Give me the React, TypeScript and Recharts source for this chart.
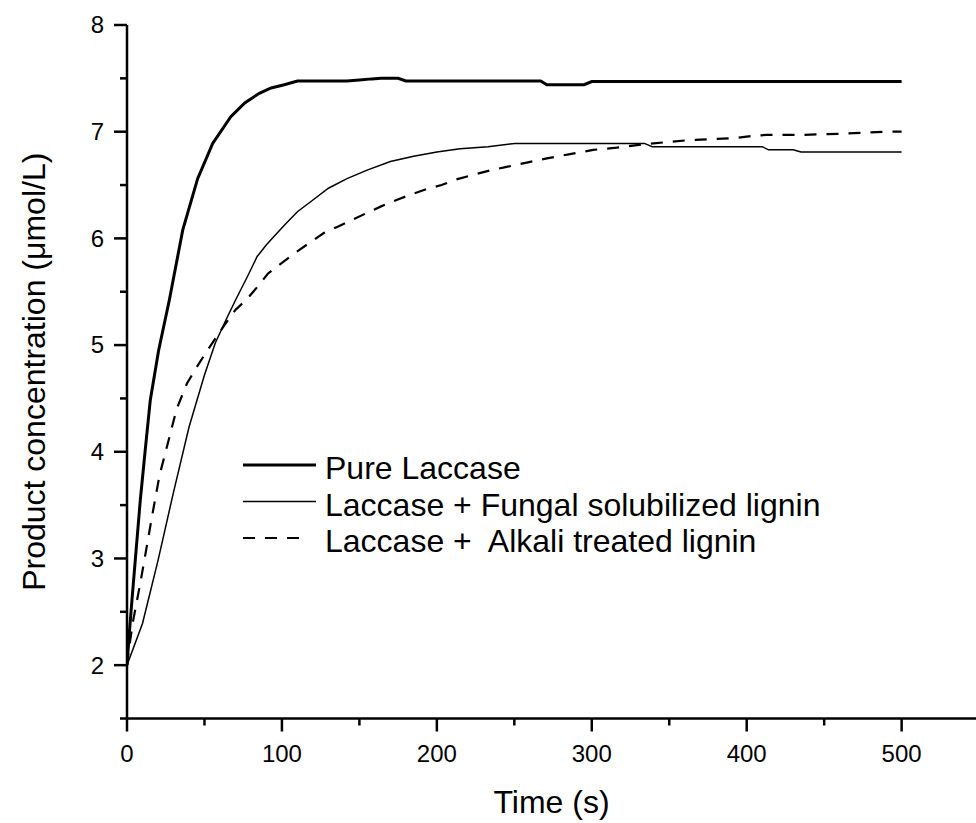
import { LineChart, Line, XAxis, YAxis, Legend, Label } from "recharts";

// Product concentration (umol/L) vs time (s)
const pureTime = [0, 1.5, 3.2, 6, 8.6, 12, 15, 20.4, 27.3, 36, 45.6, 55.3, 67, 76, 85.4, 93, 101.5, 110, 142, 150, 158, 164, 175, 180, 267, 271, 295, 300, 500];
const pureConc = [2.0, 2.3, 2.61, 3.1, 3.55, 4.05, 4.48, 4.95, 5.42, 6.08, 6.56, 6.89, 7.14, 7.27, 7.36, 7.41, 7.44, 7.475, 7.475, 7.485, 7.495, 7.5, 7.5, 7.475, 7.475, 7.44, 7.44, 7.47, 7.47];

const fungalTime = [0, 10, 20, 30, 40, 50, 57, 64, 70, 78, 84, 90, 95, 102, 110, 120, 130, 142, 155, 170, 185, 200, 215, 233, 250, 334, 339, 410, 414, 430, 435, 500];
const fungalConc = [2.0, 2.39, 2.98, 3.62, 4.23, 4.72, 5.02, 5.24, 5.42, 5.65, 5.83, 5.94, 6.02, 6.13, 6.25, 6.36, 6.47, 6.56, 6.64, 6.72, 6.77, 6.81, 6.84, 6.86, 6.89, 6.89, 6.86, 6.86, 6.83, 6.83, 6.81, 6.81];

const alkaliTime = [0, 1.1, 4, 8.6, 12, 16.1, 21, 26.9, 32, 38.7, 44, 50.5, 57, 63, 70, 78, 85, 91, 100, 108, 118, 127, 136, 145, 155, 164, 174, 183, 193, 203, 212, 222, 235, 245, 258, 271, 286, 301, 316, 332, 347, 362, 377, 392, 403, 413, 435, 460, 489, 500];
const alkaliConc = [2.0, 2.14, 2.42, 2.77, 3.05, 3.39, 3.78, 4.11, 4.4, 4.64, 4.77, 4.92, 5.06, 5.19, 5.33, 5.44, 5.56, 5.67, 5.77, 5.86, 5.96, 6.05, 6.11, 6.17, 6.24, 6.3, 6.36, 6.41, 6.46, 6.5, 6.55, 6.59, 6.64, 6.67, 6.71, 6.75, 6.79, 6.83, 6.85, 6.88, 6.9, 6.92, 6.93, 6.94, 6.96, 6.97, 6.97, 6.98, 7.0, 7.0];

const seriesNames = ["Pure Laccase", "Laccase + Fungal solubilized lignin", "Laccase +  Alkali treated lignin"];

const xTicks = [0, 50, 100, 150, 200, 250, 300, 350, 400, 450, 500];
const yTicks = [1.5, 2, 2.5, 3, 3.5, 4, 4.5, 5, 5.5, 6, 6.5, 7, 7.5, 8];

const FONT = "'Liberation Sans', Arial, sans-serif";

const toPoints = (ts: number[], vs: number[]) => ts.map((t, i) => ({ t, c: vs[i] }));

const pure = toPoints(pureTime, pureConc);
const fungal = toPoints(fungalTime, fungalConc);
const alkali = toPoints(alkaliTime, alkaliConc);

const lineStyles = [
  { width: 3, dash: undefined as string | undefined, sample: 73 },
  { width: 1.5, dash: undefined as string | undefined, sample: 73 },
  { width: 2.2, dash: "12 10", sample: 59 },
];

const XTick = (props: any) => {
  const { x, y, payload } = props;
  const major = payload.value % 100 === 0;
  return (
    <g>
      <line x1={x} y1={y} x2={x} y2={y + (major ? 13 : 7)} stroke="#000" strokeWidth={2.5} />
      {major && (
        <text x={x} y={y + 43} textAnchor="middle" fontSize={24} fontFamily={FONT} fill="#000">
          {payload.value}
        </text>
      )}
    </g>
  );
};

const YTick = (props: any) => {
  const { x, y, payload } = props;
  const major = Number.isInteger(payload.value);
  return (
    <g>
      <line x1={x - (major ? 13 : 7)} y1={y} x2={x} y2={y} stroke="#000" strokeWidth={2.5} />
      {major && (
        <text x={x - 23} y={y} dy="0.35em" textAnchor="end" fontSize={24} fontFamily={FONT} fill="#000">
          {payload.value}
        </text>
      )}
    </g>
  );
};

const renderLegend = () => (
  <svg width={640} height={115}>
    {seriesNames.map((name, i) => {
      const s = lineStyles[i];
      const cy = 20 + i * 36.5;
      return (
        <g key={name}>
          <line x1={0} y1={cy} x2={s.sample} y2={cy} stroke="#000" strokeWidth={s.width} strokeDasharray={s.dash} />
          <text x={82} y={cy + 14} fontSize={32} fontFamily={FONT} fill="#000" style={{ whiteSpace: "pre" }}>
            {name}
          </text>
        </g>
      );
    })}
  </svg>
);

export default function App() {
  return (
    <div style={{ position: "absolute", left: 0, top: 0, background: "#fff" }}>
      <LineChart width={976} height={823} margin={{ top: 25, right: 0, bottom: 0, left: 0 }}>
        <XAxis
          dataKey="t"
          type="number"
          domain={[0, 548]}
          allowDataOverflow
          ticks={xTicks}
          interval={0}
          height={104.5}
          tickSize={0}
          tickMargin={0}
          tickLine={false}
          tick={<XTick />}
          axisLine={{ stroke: "#000", strokeWidth: 2.5 }}
        >
          <Label
            content={({ viewBox }: any) => (
              <text
                x={viewBox.x + viewBox.width / 2}
                y={viewBox.y + viewBox.height - 10}
                textAnchor="middle"
                fontSize={32}
                fontFamily={FONT}
                fill="#000"
              >
                Time (s)
              </text>
            )}
          />
        </XAxis>
        <YAxis
          type="number"
          domain={[1.5, 8]}
          allowDataOverflow
          ticks={yTicks}
          interval={0}
          width={127}
          tickSize={0}
          tickMargin={0}
          tickLine={false}
          tick={<YTick />}
          axisLine={{ stroke: "#000", strokeWidth: 2.5 }}
        >
          <Label
            content={({ viewBox }: any) => {
              const cx = 45;
              const cy = viewBox.y + viewBox.height / 2;
              return (
                <text
                  x={cx}
                  y={cy}
                  transform={`rotate(-90, ${cx}, ${cy})`}
                  textAnchor="middle"
                  fontSize={32}
                  fontFamily={FONT}
                  fill="#000"
                >
                  Product concentration (μmol/L)
                </text>
              );
            }}
          />
        </YAxis>
        <Legend
          layout="horizontal"
          verticalAlign="middle"
          align="center"
          content={renderLegend}
          wrapperStyle={{ left: 243, top: 445, width: 640, height: 115 }}
        />
        <Line data={pure} dataKey="c" name={seriesNames[0]} type="linear" stroke="#000" strokeWidth={lineStyles[0].width} dot={false} isAnimationActive={false} />
        <Line data={fungal} dataKey="c" name={seriesNames[1]} type="linear" stroke="#000" strokeWidth={lineStyles[1].width} dot={false} isAnimationActive={false} />
        <Line data={alkali} dataKey="c" name={seriesNames[2]} type="linear" stroke="#000" strokeWidth={lineStyles[2].width} strokeDasharray={lineStyles[2].dash} dot={false} isAnimationActive={false} />
      </LineChart>
    </div>
  );
}
